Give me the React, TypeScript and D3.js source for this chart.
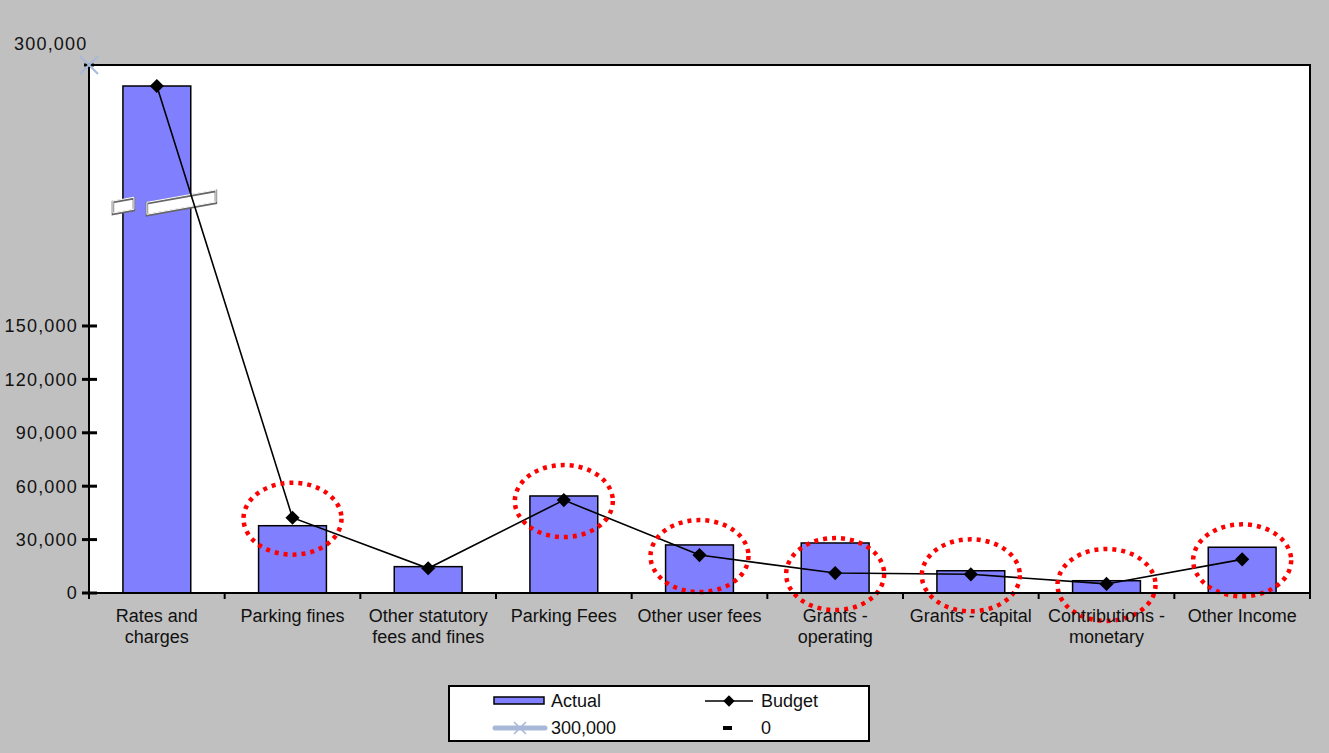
import React from 'react';
import * as d3 from 'd3';

const categories = [
  'Rates and charges', 'Parking fines', 'Other statutory fees and fines', 'Parking Fees',
  'Other user fees', 'Grants - operating', 'Grants - capital', 'Contributions - monetary', 'Other Income',
];
const categoryLines = [
  ['Rates and', 'charges'], ['Parking fines'], ['Other statutory', 'fees and fines'], ['Parking Fees'],
  ['Other user fees'], ['Grants -', 'operating'], ['Grants - capital'], ['Contributions -', 'monetary'], ['Other Income'],
];
const actual = [284800, 37800, 14800, 54500, 27000, 28100, 12500, 6900, 25700];
const budget = [284800, 42300, 13900, 52200, 21300, 11200, 10500, 5100, 18900];
const circled = [false, true, false, true, true, true, true, true, true];
const yTicks = [0, 30000, 60000, 90000, 120000, 150000];
const axisTop = 296600;
const topLabel = '300,000';
const breakAt = 219000;

const W = 1329;
const H = 753;
const left = 89, right = 1310, top = 65, bottom = 593;
const font = '"Liberation Sans", Arial, sans-serif';
const barColor = '#8080ff';
const markColor = '#a8b8d8';

const App = () => {
  const x = d3.scaleBand().domain(categories).range([left, right]).paddingInner(0.5).paddingOuter(0.25);
  const y = d3.scaleLinear().domain([0, axisTop]).range([bottom, top]);
  const fmt = d3.format(',');
  const cx = (c: string) => (x(c) as number) + x.bandwidth() / 2;

  const line = d3.line<number>()
    .x((_, i) => cx(categories[i]))
    .y(d => y(d));
  const diamond = d3.symbol(d3.symbolSquare, 100)();
  const step = x.step();
  const yb = y(breakAt);
  const bx = x(categories[0]) as number;

  // slanted white strip used for the axis-break marks
  const para = (x0: number, x1: number, yc: number) => {
    const slope = 0.18;
    const h = 6;
    const mid = (x0 + x1) / 2;
    const ya = yc + (mid - x0) * slope;
    const yz = yc - (x1 - mid) * slope;
    return `M${x0},${ya - h}L${x1},${yz - h}L${x1},${yz + h}L${x0},${ya + h}Z`;
  };

  return (
    <svg width={W} height={H} style={{ position: 'absolute', left: 0, top: 0 }} fontFamily={font}>
      <rect width={W} height={H} fill="#c0c0c0" />
      <rect x={left} y={top} width={right - left} height={bottom - top} fill="#fff" stroke="#000" strokeWidth={2} />

      {categories.map((c, i) => (
        <rect key={c} x={x(c)} y={y(actual[i])} width={x.bandwidth()} height={bottom - y(actual[i])}
          fill={barColor} stroke="#000" strokeWidth={1.5} />
      ))}

      {/* axis break marks */}
      <path d={para(bx - 10, bx + 11, yb + 3)} fill="#fff" stroke="#666" strokeWidth={2.5} />
      <path d={para(bx - 10, bx + 11, yb + 3)} fill="none" stroke="#fff" strokeWidth={1} transform="translate(0,-1)" />
      <path d={para(bx + 24, bx + 93, yb)} fill="#fff" stroke="#666" strokeWidth={2.5} />
      <path d={para(bx + 24, bx + 93, yb)} fill="none" stroke="#fff" strokeWidth={1} transform="translate(0,-1)" />

      <path d={line(budget) as string} fill="none" stroke="#000" strokeWidth={1.6} />
      {categories.map((c, i) => (
        <path key={c} d={diamond as string} transform={`translate(${cx(c)},${y(budget[i])}) rotate(45)`} fill="#000" />
      ))}

      {categories.map((c, i) => circled[i] ? (
        <ellipse key={c} cx={cx(c)} cy={y(budget[i]) + 1} rx={49} ry={36} fill="none" stroke="#ff0000"
          strokeWidth={4.5} strokeDasharray="4 5" />
      ) : null)}

      {/* axes */}
      <line x1={left} x2={right} y1={bottom} y2={bottom} stroke="#000" strokeWidth={2} />
      <line x1={left} x2={left} y1={top} y2={bottom} stroke="#000" strokeWidth={2} />
      {d3.range(categories.length + 1).map(k => (
        <line key={k} x1={left + k * step} x2={left + k * step} y1={bottom} y2={bottom + 6} stroke="#000" strokeWidth={2} />
      ))}
      {yTicks.map(t => (
        <g key={t}>
          <line x1={left - 7} x2={left + 8} y1={y(t)} y2={y(t)} stroke="#000" strokeWidth={3} />
          <text x={78} y={y(t)} dy="0.36em" textAnchor="end" fontSize={18} letterSpacing={1.2} fill="#111">{fmt(t)}</text>
        </g>
      ))}
      <text x={14} y={50} fontSize={18} letterSpacing={1.2} fill="#111">{topLabel}</text>
      <line x1={left - 5} x2={left + 5} y1={top} y2={top} stroke="#000" strokeWidth={3} />
      <path d={`M${left - 9},${top - 9}L${left + 9},${top + 9}M${left - 9},${top + 9}L${left + 9},${top - 9}`} stroke={markColor} strokeWidth={2} />

      {categories.map((c, i) => (
        <text key={c} x={cx(c)} y={622} textAnchor="middle" fontSize={18} fill="#111">
          {categoryLines[i].map((l, j) => (
            <tspan key={j} x={cx(c)} dy={j === 0 ? 0 : 21}>{l}</tspan>
          ))}
        </text>
      ))}

      {/* legend */}
      <g>
        <rect x={449} y={686} width={420} height={55} fill="#fff" stroke="#000" strokeWidth={2} />
        <rect x={494} y={697} width={50} height={7} fill={barColor} stroke="#000" strokeWidth={1.5} />
        <text x={551} y={707} fontSize={18} fill="#111">Actual</text>
        <line x1={705} x2={753} y1={701} y2={701} stroke="#000" strokeWidth={1.6} />
        <path d={diamond as string} transform="translate(729,701) rotate(45) scale(0.8)" fill="#000" />
        <text x={761} y={707} fontSize={18} fill="#111">Budget</text>
        <line x1={495} x2={545} y1={728} y2={728} stroke={markColor} strokeWidth={5} strokeLinecap="round" />
        <path d="M514,722L526,734M514,734L526,722" stroke={markColor} strokeWidth={1.6} />
        <text x={551} y={734} fontSize={18} fill="#111">300,000</text>
        <line x1={723} x2={732} y1={728} y2={728} stroke="#000" strokeWidth={4} />
        <text x={761} y={734} fontSize={18} fill="#111">0</text>
      </g>
    </svg>
  );
};

export default App;
